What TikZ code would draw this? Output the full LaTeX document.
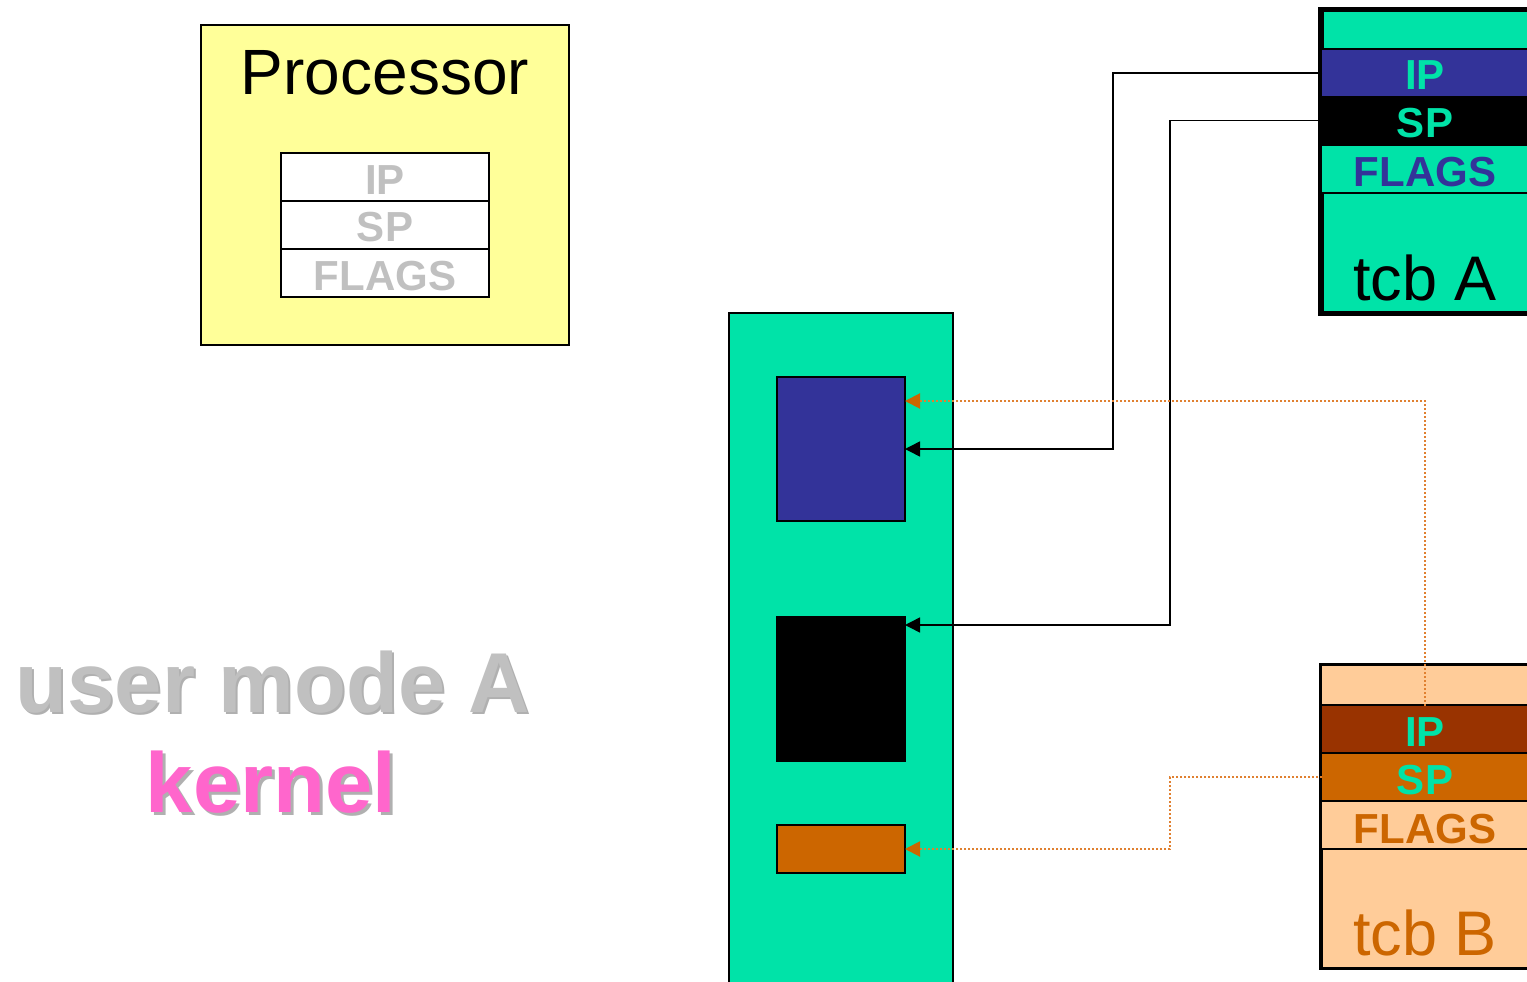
\documentclass[tikz,border=0pt]{standalone}
\usepackage{fontspec}
\setmainfont{Liberation Sans}
\usetikzlibrary{arrows.meta,calc}
\definecolor{tgreen}{HTML}{00E3A8}
\definecolor{tblue}{HTML}{333399}
\definecolor{ylw}{HTML}{FFFF99}
\definecolor{peach}{HTML}{FFCC99}
\definecolor{brn}{HTML}{993300}
\definecolor{orng}{HTML}{CC6600}
\definecolor{lgray}{HTML}{C0C0C0}
\definecolor{sgray}{HTML}{B0B0B0}
\definecolor{pinkk}{HTML}{FF66CC}
\definecolor{dotc}{HTML}{E08030}
\tikzset{
  cell/.style={anchor=north west, inner sep=0pt, outer sep=0pt},
  reg/.style={anchor=base, inner sep=0pt, font=\fontsize{42pt}{42pt}\selectfont\bfseries},
  big/.style={anchor=base, inner sep=0pt, font=\fontsize{63pt}{63pt}\selectfont},
  huge/.style={anchor=base, inner sep=0pt, font=\fontsize{85pt}{85pt}\selectfont\bfseries},
  conn/.style={draw=black, line width=1.5pt, -{Triangle[length=15pt,width=15pt]}},
  dconn/.style={draw=dotc, line width=2pt, dash pattern=on 2pt off 2pt, -{Triangle[length=15pt,width=15pt,fill=orng,color=orng,sep=0pt]}}
}
\begin{document}
\begin{tikzpicture}[x=1pt,y=-1pt]
\useasboundingbox (0,0) rectangle (1527,982);
\fill[white] (0,0) rectangle (1527,982);

% Processor
\node[cell, fill=ylw, draw=black, line width=2pt, minimum width=368pt, minimum height=320pt] (proc) at (201,25) {};
\node[big, font=\fontsize{64pt}{64pt}\selectfont] (proct) at (385,95) {Processor};
\node[cell, fill=white, draw=black, line width=2pt, minimum width=208pt, minimum height=48pt] (pip) at (281,153) {};
\node[cell, fill=white, draw=black, line width=2pt, minimum width=208pt, minimum height=48pt] (psp) at (281,201) {};
\node[cell, fill=white, draw=black, line width=2pt, minimum width=208pt, minimum height=48pt] (pfl) at (281,249) {};
\node[reg, text=lgray] (pipt) at (385,194) {IP};
\node[reg, text=lgray] (pspt) at (385,241) {SP};
\node[reg, text=lgray] (pflt) at (385,290) {FLAGS};

% user mode / kernel
\node[huge, text=sgray] (ums) at (275,714) {user mode A};
\node[huge, text=lgray] (um) at (273,712) {user mode A};
\node[huge, text=sgray] (kns) at (274,815) {kernel};
\node[huge, text=pinkk] (kn) at (271,812) {kernel};

% kernel stack
\node[cell, fill=tgreen, draw=black, line width=2pt, minimum width=224pt, minimum height=700pt] (kstack) at (729,313) {};
\node[cell, fill=tblue, draw=black, line width=1.5pt, minimum width=128pt, minimum height=144pt] (kblue) at (777,377) {};
\node[cell, fill=black, draw=black, line width=1.5pt, minimum width=128pt, minimum height=144pt] (kblack) at (777,617) {};
\node[cell, fill=orng, draw=black, line width=2pt, minimum width=128pt, minimum height=48pt] (korange) at (777,825) {};

% tcb A
\node[cell, fill=black, minimum width=215pt, minimum height=309pt] (tcbA) at (1318,7) {};
\node[cell, fill=tgreen, minimum width=210pt, minimum height=36pt] (atop) at (1324,12) {};
\node[cell, fill=tblue, minimum width=210pt, minimum height=46pt] (aIP) at (1322,50) {};
\node[cell, fill=black, minimum width=210pt, minimum height=49pt] (aSP) at (1322,96) {};
\node[cell, fill=tgreen, minimum width=210pt, minimum height=46pt] (aFL) at (1322,146) {};
\node[cell, fill=tgreen, minimum width=210pt, minimum height=117pt] (abot) at (1324,194) {};
\node[reg, text=tgreen] (aIPt) at (1425,90) {IP};
\node[reg, text=tgreen] (aSPt) at (1425,137) {SP};
\node[reg, text=tblue] (aFLt) at (1425,186) {FLAGS};
\node[big, text=black] (aname) at (1425,300) {tcb A};

% tcb B
\node[cell, fill=black, minimum width=215pt, minimum height=307pt] (tcbB) at (1319,663) {};
\node[cell, fill=peach, minimum width=210pt, minimum height=38pt] (btop) at (1322,666) {};
\node[cell, fill=brn, minimum width=210pt, minimum height=46pt] (bIP) at (1322,706) {};
\node[cell, fill=orng, minimum width=210pt, minimum height=46pt] (bSP) at (1322,754) {};
\node[cell, fill=peach, minimum width=210pt, minimum height=46pt] (bFL) at (1322,802) {};
\node[cell, fill=peach, minimum width=210pt, minimum height=117pt] (bbot) at (1323,850) {};
\node[reg, text=tgreen] (bIPt) at (1425,746) {IP};
\node[reg, text=tgreen] (bSPt) at (1425,794) {SP};
\node[reg, text=orng] (bFLt) at (1425,843) {FLAGS};
\node[big, text=orng] (bname) at (1425,955) {tcb B};

% connectors
\draw[conn] (aIP.west) -| (1113,449) -- (kblue.east);
\draw[conn] (aSP.west) -| (1170,625) -- (kblack.east |- 0,625);
\draw[dconn] (bIPt.north |- bIP.north) |- (kblue.east |- 0,401);
\draw[dconn] (bSP.west) -| (1170,849) -- (korange.east);
\end{tikzpicture}
\end{document}
